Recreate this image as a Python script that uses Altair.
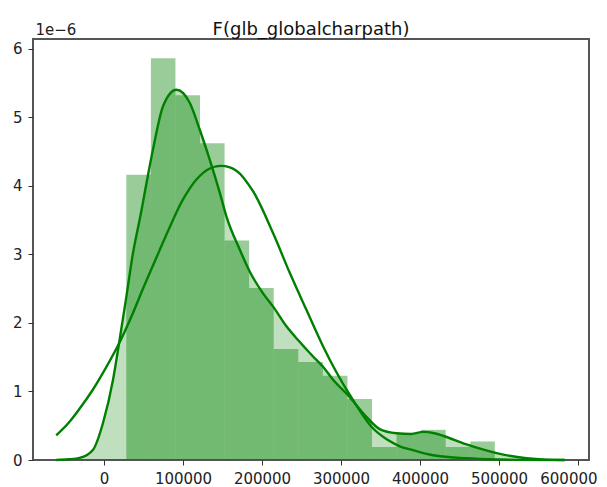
import altair as alt
import pandas as pd

# Histogram bin edges and densities (units of 1e-6)
bin_edges = [28200, 59300, 90400, 121500, 152600, 183700, 214800, 245900,
             277000, 308100, 339200, 370300, 401400, 432500, 463600, 494700]
bin_heights = [4.16, 5.86, 5.32, 4.62, 3.20, 2.51, 1.62, 1.43, 1.23, 0.89,
               0.19, 0.39, 0.44, 0.19, 0.27]

# KDE curve
kde_x = [-60500, -45000, -30800, -13900, -1300, 11400, 19000, 28400, 36700,
         45200, 62000, 74700, 91600, 108500, 121100, 133800, 146500, 155000,
         171800, 184400, 201300, 213900, 230900, 245600, 264600, 277200,
         290000, 310000, 332100, 349000, 370100, 388900, 404000, 418300,
         430000, 458000, 497000, 534700, 560000, 583000]
kde_y = [0.0, 0.01, 0.03, 0.15, 0.54, 1.17, 1.70, 2.39, 3.02,
         3.51, 4.53, 5.16, 5.40, 5.21, 4.82, 4.38, 3.90, 3.55,
         3.07, 2.75, 2.43, 2.24, 1.95, 1.75, 1.51, 1.36,
         1.17, 0.93, 0.63, 0.45, 0.39, 0.38, 0.41, 0.39,
         0.35, 0.23, 0.10, 0.025, 0.005, 0.0]

# Fitted normal curve
fit_x = [-60500, -45000, -30800, -15000, -5400, 19000, 35000, 49400, 70000,
         87300, 100000, 117000, 132000, 148000, 167600, 188600, 213900,
         235100, 256200, 277200, 294200, 310000, 339700, 359400, 374300,
         388900, 416500, 458700, 500000, 583000]
fit_y = [0.36, 0.54, 0.75, 1.01, 1.19, 1.70, 2.10, 2.50, 3.05,
         3.50, 3.80, 4.09, 4.24, 4.29, 4.22, 3.92, 3.31,
         2.73, 2.19, 1.66, 1.28, 0.97, 0.47, 0.29, 0.20,
         0.15, 0.07, 0.025, 0.008, 0.0]

x_ticks = [0, 100000, 200000, 300000, 400000, 500000, 600000]
y_ticks = [0, 1, 2, 3, 4, 5, 6]

GREEN = "#008000"
FONT = "DejaVu Sans"

bars = pd.DataFrame({
    "start": bin_edges[:-1],
    "end": bin_edges[1:],
    "h": bin_heights,
})
kde = pd.DataFrame({"x": kde_x, "y": kde_y})
fit = pd.DataFrame({"x": fit_x, "y": fit_y})

xscale = alt.Scale(domain=[-89900, 613900], nice=False, zero=False)
yscale = alt.Scale(domain=[0, 6.14], nice=False, zero=False)

xaxis = alt.Axis(values=x_ticks, format="d", title=None, grid=False,
                 domain=False, tickSize=5, tickColor="#333", labelFontSize=15,
                 labelFont=FONT, labelColor="#222", labelPadding=6,
                 labelFlush=12, labelFlushOffset=19, labelOverlap=False)
yaxis = alt.Axis(values=y_ticks, format="d", title="1e\u22126", grid=False,
                 domain=False, tickSize=5, tickColor="#333", labelFontSize=15,
                 labelFont=FONT, labelColor="#222", labelPadding=6,
                 titleAngle=0, titleX=2, titleY=-5, titleAlign="left",
                 titleBaseline="alphabetic", titleFontSize=15,
                 titleFontWeight="normal", titleFont=FONT, titleColor="#222")

hist = alt.Chart(bars).mark_rect(color=GREEN, opacity=0.4, strokeWidth=0).encode(
    x=alt.X("start:Q", scale=xscale, axis=xaxis),
    x2="end:Q",
    y=alt.Y("h:Q", scale=yscale, axis=yaxis),
    y2=alt.datum(0),
)

kde_area = alt.Chart(kde).mark_area(color=GREEN, opacity=0.25,
                                    interpolate="monotone").encode(
    x=alt.X("x:Q", scale=xscale, axis=xaxis),
    y=alt.Y("y:Q", scale=yscale, axis=yaxis),
)

kde_line = alt.Chart(kde).mark_line(color=GREEN, strokeWidth=2.4,
                                    interpolate="monotone").encode(
    x=alt.X("x:Q", scale=xscale, axis=xaxis),
    y=alt.Y("y:Q", scale=yscale, axis=yaxis),
)

fit_line = alt.Chart(fit).mark_line(color=GREEN, strokeWidth=2.4,
                                    interpolate="catmull-rom").encode(
    x=alt.X("x:Q", scale=xscale, axis=xaxis),
    y=alt.Y("y:Q", scale=yscale, axis=yaxis),
)

chart = alt.layer(hist, kde_area, kde_line, fit_line).properties(
    width=556,
    height=421,
    title=alt.TitleParams("F(glb_globalcharpath)", font=FONT, fontSize=18,
                          fontWeight="normal", color="#111", anchor="middle",
                          frame="group", offset=-17),
    autosize=alt.AutoSizeParams(type="none"),
    padding={"left": 25, "top": 31, "right": 10, "bottom": 26},
).configure_view(
    stroke="#555", strokeWidth=2
)

chart.save("out.html", embed_options={"renderer": "svg", "actions": False})
